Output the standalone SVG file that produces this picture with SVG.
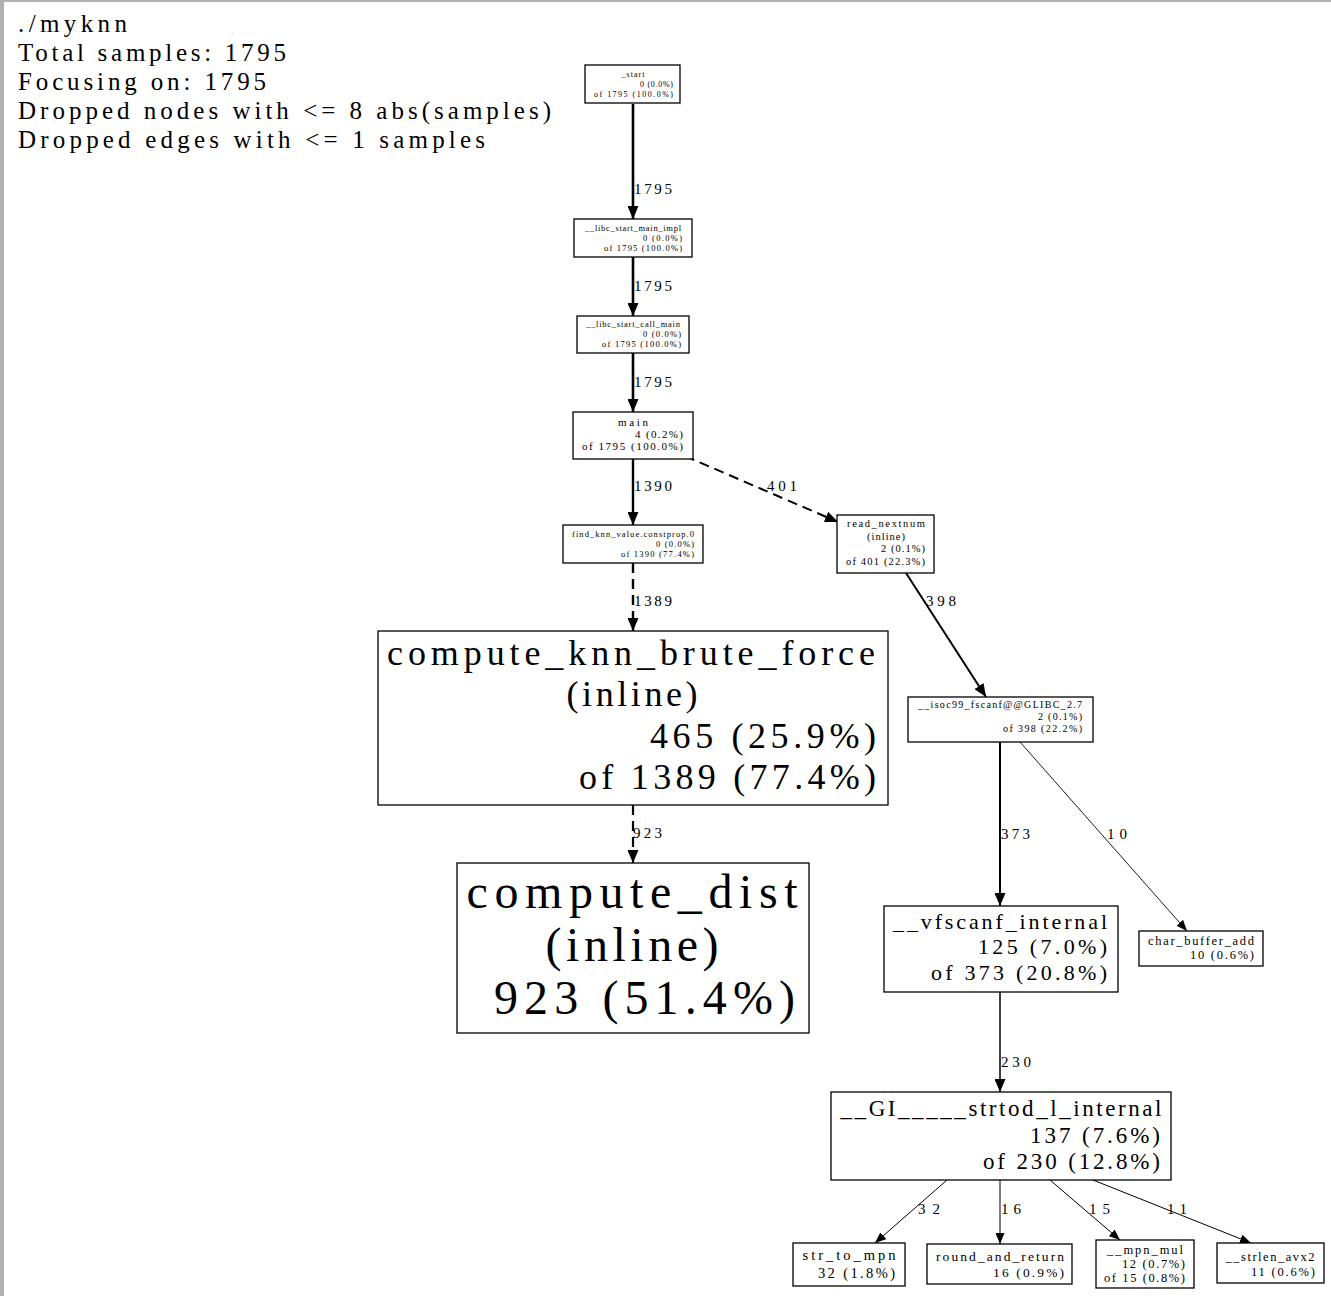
<svg xmlns="http://www.w3.org/2000/svg" width="1331" height="1296" viewBox="0 0 1331 1296">
  <style>
    text { font-family: "Liberation Serif", "Times New Roman", serif; fill: #000; }
    .hdr { font-size: 25px; }
    .box { fill: #fff; stroke: #000; stroke-width: 1.3; }
    .c { text-anchor: middle; }
    .r { text-anchor: end; }
    .e { fill: none; stroke: #000; }
    .lbl { font-size: 15px; }
    .dash { stroke-dasharray: 10 6; }
  </style>
  <defs>
    <marker id="ah" markerUnits="userSpaceOnUse" markerWidth="13" markerHeight="11" refX="13" refY="5.5" orient="auto">
      <path d="M0,0 L13,5.5 L0,11 z" fill="#000"/>
    </marker>
    <marker id="ahs" markerUnits="userSpaceOnUse" markerWidth="11" markerHeight="9" refX="11" refY="4.5" orient="auto">
      <path d="M0,0 L11,4.5 L0,9 z" fill="#000"/>
    </marker>
  </defs>

  <rect x="0" y="0" width="1331" height="1296" fill="#fff"/>
  <!-- window frame -->
  <rect x="0" y="0" width="1331" height="2" fill="#b0b0b0"/>
  <rect x="0" y="0" width="4" height="1296" fill="#b0b0b0"/>

  <!-- legend -->
  <g id="legend" class="hdr">
    <text x="18" y="32" textLength="109" lengthAdjust="spacing">./myknn</text>
    <text x="18" y="61" textLength="268" lengthAdjust="spacing">Total samples: 1795</text>
    <text x="18" y="90" textLength="248" lengthAdjust="spacing">Focusing on: 1795</text>
    <text x="18" y="119" textLength="533" lengthAdjust="spacing">Dropped nodes with &lt;= 8 abs(samples)</text>
    <text x="18" y="148" textLength="467" lengthAdjust="spacing">Dropped edges with &lt;= 1 samples</text>
  </g>

  <!-- call edges -->
  <g id="edges">
    <line class="e" x1="633" y1="104" x2="633" y2="219" stroke-width="2.6" marker-end="url(#ah)"/>
    <text class="lbl" x="634" y="194" textLength="38" lengthAdjust="spacing">1795</text>

    <line class="e" x1="633" y1="257" x2="633" y2="316" stroke-width="2.6" marker-end="url(#ah)"/>
    <text class="lbl" x="634" y="291" textLength="38" lengthAdjust="spacing">1795</text>

    <line class="e" x1="633" y1="353" x2="633" y2="412" stroke-width="2.6" marker-end="url(#ah)"/>
    <text class="lbl" x="634" y="387" textLength="38" lengthAdjust="spacing">1795</text>

    <line class="e" x1="633" y1="459" x2="633" y2="525" stroke-width="2.4" marker-end="url(#ah)"/>
    <text class="lbl" x="634" y="491" textLength="38" lengthAdjust="spacing">1390</text>

    <line class="e dash" x1="685" y1="456" x2="838" y2="522" stroke-width="2" marker-end="url(#ah)"/>
    <text class="lbl" x="767" y="491" textLength="30" lengthAdjust="spacing">401</text>

    <line class="e dash" x1="633" y1="563" x2="633" y2="631" stroke-width="2.4" marker-end="url(#ah)"/>
    <text class="lbl" x="634" y="606" textLength="38" lengthAdjust="spacing">1389</text>

    <line class="e dash" x1="633" y1="805" x2="633" y2="863" stroke-width="2.2" marker-end="url(#ah)"/>
    <text class="lbl" x="633" y="838" textLength="29" lengthAdjust="spacing">923</text>

    <line class="e" x1="906" y1="573" x2="986" y2="697" stroke-width="2" marker-end="url(#ah)"/>
    <text class="lbl" x="926" y="606" textLength="30" lengthAdjust="spacing">398</text>

    <line class="e" x1="1000" y1="742" x2="1000" y2="906" stroke-width="2" marker-end="url(#ah)"/>
    <text class="lbl" x="1001" y="839" textLength="29" lengthAdjust="spacing">373</text>

    <line class="e" x1="1020" y1="742" x2="1187" y2="931" stroke-width="0.9" marker-end="url(#ahs)"/>
    <text class="lbl" x="1107" y="839" textLength="20" lengthAdjust="spacing">10</text>

    <line class="e" x1="1000" y1="992" x2="1000" y2="1092" stroke-width="1.5" marker-end="url(#ah)"/>
    <text class="lbl" x="1001" y="1067" textLength="30" lengthAdjust="spacing">230</text>

    <line class="e" x1="947" y1="1180" x2="875" y2="1243" stroke-width="1" marker-end="url(#ahs)"/>
    <text class="lbl" x="918" y="1214" textLength="22" lengthAdjust="spacing">32</text>

    <line class="e" x1="1000" y1="1180" x2="1000" y2="1244" stroke-width="1" marker-end="url(#ahs)"/>
    <text class="lbl" x="1001" y="1214" textLength="20" lengthAdjust="spacing">16</text>

    <line class="e" x1="1050" y1="1180" x2="1120" y2="1240" stroke-width="1" marker-end="url(#ahs)"/>
    <text class="lbl" x="1089" y="1214" textLength="21" lengthAdjust="spacing">15</text>

    <line class="e" x1="1093" y1="1180" x2="1251" y2="1243" stroke-width="1" marker-end="url(#ahs)"/>
    <text class="lbl" x="1167" y="1214" textLength="20" lengthAdjust="spacing">11</text>
  </g>

  <!-- nodes -->
  <g id="n_start" font-size="8">
    <rect class="box" x="585" y="65" width="95" height="38"/>
    <text class="c" x="633" y="77" textLength="23" lengthAdjust="spacing">_start</text>
    <text class="r" x="673" y="87" textLength="33" lengthAdjust="spacing">0 (0.0%)</text>
    <text class="r" x="673" y="97" textLength="79" lengthAdjust="spacing">of 1795 (100.0%)</text>
  </g>

  <g id="n_libc_start_main_impl" font-size="8.5">
    <rect class="box" x="574" y="219" width="118" height="38"/>
    <text class="c" x="633" y="231" textLength="96" lengthAdjust="spacing">__libc_start_main_impl</text>
    <text class="r" x="682" y="241" textLength="39" lengthAdjust="spacing">0 (0.0%)</text>
    <text class="r" x="682" y="251" textLength="78" lengthAdjust="spacing">of 1795 (100.0%)</text>
  </g>

  <g id="n_libc_start_call_main" font-size="8.5">
    <rect class="box" x="577" y="316" width="112" height="37"/>
    <text class="c" x="633" y="327" textLength="94" lengthAdjust="spacing">__libc_start_call_main</text>
    <text class="r" x="681" y="337" textLength="38" lengthAdjust="spacing">0 (0.0%)</text>
    <text class="r" x="681" y="347" textLength="79" lengthAdjust="spacing">of 1795 (100.0%)</text>
  </g>

  <g id="n_main" font-size="11">
    <rect class="box" x="573" y="412" width="120" height="47"/>
    <text class="c" x="633" y="426" textLength="30" lengthAdjust="spacing">main</text>
    <text class="r" x="683" y="438" textLength="48" lengthAdjust="spacing">4 (0.2%)</text>
    <text class="r" x="683" y="450" textLength="101" lengthAdjust="spacing">of 1795 (100.0%)</text>
  </g>

  <g id="n_find_knn_value" font-size="8.5">
    <rect class="box" x="563" y="525" width="140" height="38"/>
    <text class="c" x="633" y="537" textLength="122" lengthAdjust="spacing">find_knn_value.constprop.0</text>
    <text class="r" x="694" y="547" textLength="38" lengthAdjust="spacing">0 (0.0%)</text>
    <text class="r" x="694" y="557" textLength="73" lengthAdjust="spacing">of 1390 (77.4%)</text>
  </g>

  <g id="n_read_nextnum" font-size="10.5">
    <rect class="box" x="837" y="515" width="97" height="58"/>
    <text class="c" x="886" y="527" textLength="78" lengthAdjust="spacing">read_nextnum</text>
    <text class="c" x="886" y="540" textLength="38" lengthAdjust="spacing">(inline)</text>
    <text class="r" x="925" y="552" textLength="44" lengthAdjust="spacing">2 (0.1%)</text>
    <text class="r" x="925" y="565" textLength="79" lengthAdjust="spacing">of 401 (22.3%)</text>
  </g>

  <g id="n_compute_knn_brute_force" font-size="36">
    <rect class="box" x="378" y="631" width="510" height="174"/>
    <text class="c" x="631" y="665" textLength="488" lengthAdjust="spacing">compute_knn_brute_force</text>
    <text class="c" x="632" y="706" textLength="131" lengthAdjust="spacing">(inline)</text>
    <text class="r" x="876" y="748" textLength="226" lengthAdjust="spacing">465 (25.9%)</text>
    <text class="r" x="876" y="789" textLength="297" lengthAdjust="spacing">of 1389 (77.4%)</text>
  </g>

  <g id="n_compute_dist" font-size="48">
    <rect class="box" x="457" y="863" width="352" height="170"/>
    <text class="c" x="632" y="908" textLength="331" lengthAdjust="spacing">compute_dist</text>
    <text class="c" x="632" y="961" textLength="173" lengthAdjust="spacing">(inline)</text>
    <text class="r" x="795" y="1014" textLength="301" lengthAdjust="spacing">923 (51.4%)</text>
  </g>

  <g id="n_isoc99_fscanf" font-size="10">
    <rect class="box" x="908" y="697" width="185" height="45"/>
    <text class="c" x="1000" y="708" textLength="164" lengthAdjust="spacing">__isoc99_fscanf@@GLIBC_2.7</text>
    <text class="r" x="1082" y="720" textLength="44" lengthAdjust="spacing">2 (0.1%)</text>
    <text class="r" x="1082" y="732" textLength="79" lengthAdjust="spacing">of 398 (22.2%)</text>
  </g>

  <g id="n_vfscanf_internal" font-size="22">
    <rect class="box" x="884" y="906" width="234" height="86"/>
    <text class="c" x="1000" y="929" textLength="214" lengthAdjust="spacing">__vfscanf_internal</text>
    <text class="r" x="1107" y="954" textLength="129" lengthAdjust="spacing">125 (7.0%)</text>
    <text class="r" x="1107" y="980" textLength="176" lengthAdjust="spacing">of 373 (20.8%)</text>
  </g>

  <g id="n_char_buffer_add" font-size="12.5">
    <rect class="box" x="1139" y="931" width="124" height="35"/>
    <text class="c" x="1201" y="945" textLength="106" lengthAdjust="spacing">char_buffer_add</text>
    <text class="r" x="1254" y="959" textLength="64" lengthAdjust="spacing">10 (0.6%)</text>
  </g>

  <g id="n_strtod_l_internal" font-size="23">
    <rect class="box" x="831" y="1092" width="340" height="88"/>
    <text class="c" x="1001" y="1116" textLength="321" lengthAdjust="spacing">__GI_____strtod_l_internal</text>
    <text class="r" x="1160" y="1143" textLength="130" lengthAdjust="spacing">137 (7.6%)</text>
    <text class="r" x="1160" y="1169" textLength="177" lengthAdjust="spacing">of 230 (12.8%)</text>
  </g>

  <g id="n_str_to_mpn" font-size="14.5">
    <rect class="box" x="793" y="1243" width="112" height="43"/>
    <text class="c" x="849" y="1260" textLength="93" lengthAdjust="spacing">str_to_mpn</text>
    <text class="r" x="895" y="1278" textLength="77" lengthAdjust="spacing">32 (1.8%)</text>
  </g>

  <g id="n_round_and_return" font-size="13.5">
    <rect class="box" x="927" y="1244" width="145" height="40"/>
    <text class="c" x="1000" y="1261" textLength="128" lengthAdjust="spacing">round_and_return</text>
    <text class="r" x="1064" y="1277" textLength="71" lengthAdjust="spacing">16 (0.9%)</text>
  </g>

  <g id="n_mpn_mul" font-size="12.5">
    <rect class="box" x="1096" y="1240" width="98" height="48"/>
    <text class="c" x="1145" y="1254" textLength="76" lengthAdjust="spacing">__mpn_mul</text>
    <text class="r" x="1185" y="1268" textLength="63" lengthAdjust="spacing">12 (0.7%)</text>
    <text class="r" x="1185" y="1282" textLength="81" lengthAdjust="spacing">of 15 (0.8%)</text>
  </g>

  <g id="n_strlen_avx2" font-size="12.5">
    <rect class="box" x="1217" y="1243" width="107" height="40"/>
    <text class="c" x="1270" y="1261" textLength="89" lengthAdjust="spacing">__strlen_avx2</text>
    <text class="r" x="1315" y="1276" textLength="64" lengthAdjust="spacing">11 (0.6%)</text>
  </g>
</svg>
